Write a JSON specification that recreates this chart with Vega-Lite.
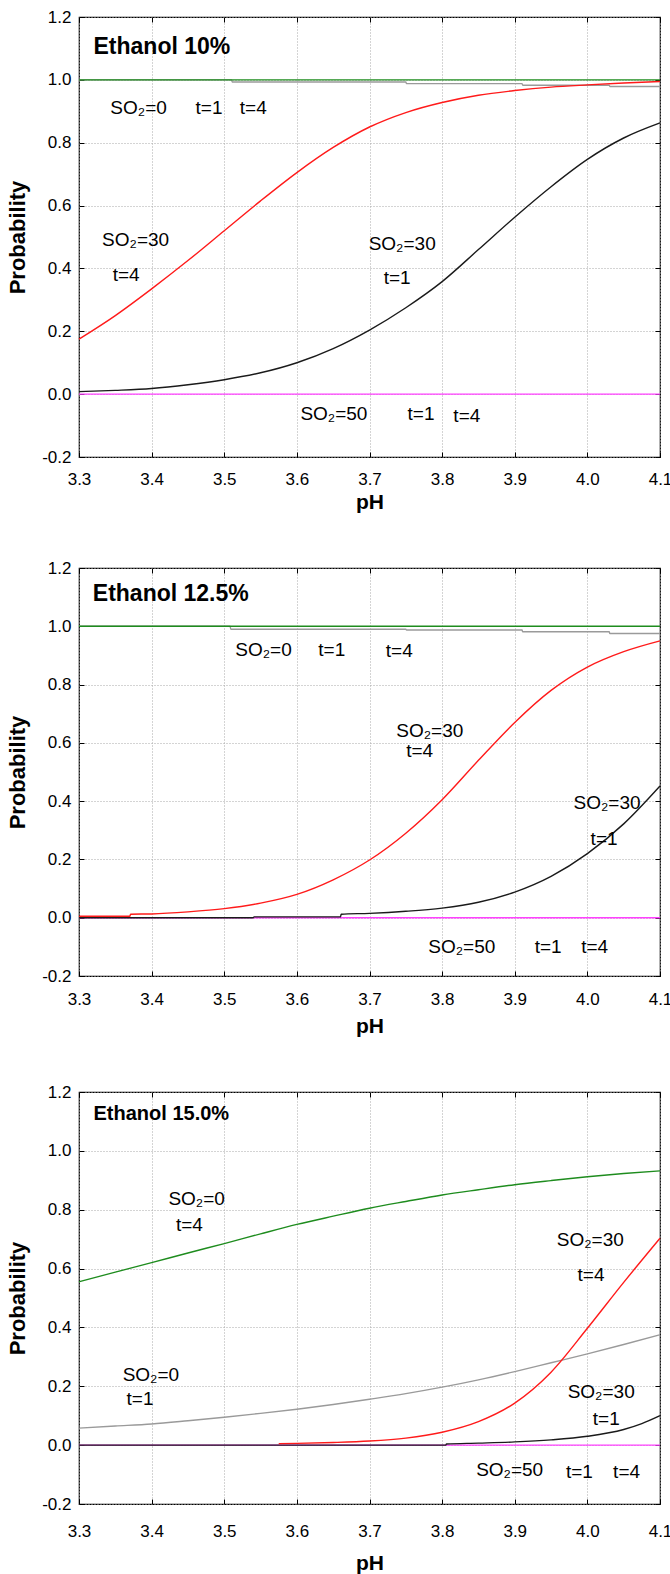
{
  "$schema": "https://vega.github.io/schema/vega-lite/v6.json",
  "padding": {"left": 6, "top": 7, "right": 0, "bottom": 0},
  "spacing": 45,
  "config": {
    "font": "Liberation Sans",
    "view": {"stroke": "#000000", "strokeWidth": 1.2},
    "axis": {
      "grid": true, "gridDash": [1, 2], "gridColor": "#a8a8a8", "gridWidth": 1,
      "domain": false, "tickColor": "#000000", "tickSize": -5, "tickWidth": 1, "labelFlush": false,
      "labelFont": "Liberation Sans", "labelFontSize": 17, "labelColor": "#000000",
      "titleFont": "Liberation Sans", "titleFontSize": 21, "titleFontWeight": "bold", "titleColor": "#000000"
    },
    "line": {"strokeWidth": 1.4, "interpolate": "monotone"},
    "text": {"font": "Liberation Sans", "fontSize": 19, "color": "#000000"}
  },
  "datasets": {
    "lines": [
      {"panel": 1, "series": "s50", "pH": 3.3, "p": 0},
      {"panel": 1, "series": "s50", "pH": 4.1, "p": 0},
      {"panel": 1, "series": "s30t1", "pH": 3.3, "p": 0.008},
      {"panel": 1, "series": "s30t1", "pH": 3.35, "p": 0.012},
      {"panel": 1, "series": "s30t1", "pH": 3.4, "p": 0.018},
      {"panel": 1, "series": "s30t1", "pH": 3.45, "p": 0.03},
      {"panel": 1, "series": "s30t1", "pH": 3.5, "p": 0.046},
      {"panel": 1, "series": "s30t1", "pH": 3.55, "p": 0.068},
      {"panel": 1, "series": "s30t1", "pH": 3.6, "p": 0.1},
      {"panel": 1, "series": "s30t1", "pH": 3.65, "p": 0.145},
      {"panel": 1, "series": "s30t1", "pH": 3.7, "p": 0.204},
      {"panel": 1, "series": "s30t1", "pH": 3.75, "p": 0.275},
      {"panel": 1, "series": "s30t1", "pH": 3.8, "p": 0.358},
      {"panel": 1, "series": "s30t1", "pH": 3.85, "p": 0.46},
      {"panel": 1, "series": "s30t1", "pH": 3.9, "p": 0.563},
      {"panel": 1, "series": "s30t1", "pH": 3.95, "p": 0.66},
      {"panel": 1, "series": "s30t1", "pH": 4.0, "p": 0.747},
      {"panel": 1, "series": "s30t1", "pH": 4.05, "p": 0.815},
      {"panel": 1, "series": "s30t1", "pH": 4.1, "p": 0.863},
      {"panel": 1, "series": "s0t1", "pH": 3.3, "p": 1.0},
      {"panel": 1, "series": "s0t1", "pH": 3.51, "p": 1.0},
      {"panel": 1, "series": "s0t1", "pH": 3.511, "p": 0.993},
      {"panel": 1, "series": "s0t1", "pH": 3.75, "p": 0.993},
      {"panel": 1, "series": "s0t1", "pH": 3.751, "p": 0.988},
      {"panel": 1, "series": "s0t1", "pH": 3.91, "p": 0.988},
      {"panel": 1, "series": "s0t1", "pH": 3.911, "p": 0.983},
      {"panel": 1, "series": "s0t1", "pH": 4.03, "p": 0.983},
      {"panel": 1, "series": "s0t1", "pH": 4.031, "p": 0.979},
      {"panel": 1, "series": "s0t1", "pH": 4.1, "p": 0.979},
      {"panel": 1, "series": "s0t4", "pH": 3.3, "p": 1.0},
      {"panel": 1, "series": "s0t4", "pH": 4.1, "p": 1.0},
      {"panel": 1, "series": "s30t4", "pH": 3.3, "p": 0.175},
      {"panel": 1, "series": "s30t4", "pH": 3.35, "p": 0.25},
      {"panel": 1, "series": "s30t4", "pH": 3.4, "p": 0.335},
      {"panel": 1, "series": "s30t4", "pH": 3.45, "p": 0.425},
      {"panel": 1, "series": "s30t4", "pH": 3.5, "p": 0.52},
      {"panel": 1, "series": "s30t4", "pH": 3.55, "p": 0.615},
      {"panel": 1, "series": "s30t4", "pH": 3.6, "p": 0.705},
      {"panel": 1, "series": "s30t4", "pH": 3.65, "p": 0.785},
      {"panel": 1, "series": "s30t4", "pH": 3.7, "p": 0.85},
      {"panel": 1, "series": "s30t4", "pH": 3.75, "p": 0.896},
      {"panel": 1, "series": "s30t4", "pH": 3.8, "p": 0.928},
      {"panel": 1, "series": "s30t4", "pH": 3.85, "p": 0.951},
      {"panel": 1, "series": "s30t4", "pH": 3.9, "p": 0.966},
      {"panel": 1, "series": "s30t4", "pH": 3.95, "p": 0.977},
      {"panel": 1, "series": "s30t4", "pH": 4.0, "p": 0.984},
      {"panel": 1, "series": "s30t4", "pH": 4.05, "p": 0.99},
      {"panel": 1, "series": "s30t4", "pH": 4.1, "p": 0.995},

      {"panel": 2, "series": "s50", "pH": 3.3, "p": 0},
      {"panel": 2, "series": "s50", "pH": 4.1, "p": 0},
      {"panel": 2, "series": "s30t1", "pH": 3.3, "p": 0},
      {"panel": 2, "series": "s30t1", "pH": 3.54, "p": 0},
      {"panel": 2, "series": "s30t1", "pH": 3.541, "p": 0.003},
      {"panel": 2, "series": "s30t1", "pH": 3.66, "p": 0.003},
      {"panel": 2, "series": "s30t1", "pH": 3.661, "p": 0.012},
      {"panel": 2, "series": "s30t1", "pH": 3.7, "p": 0.015},
      {"panel": 2, "series": "s30t1", "pH": 3.75, "p": 0.022},
      {"panel": 2, "series": "s30t1", "pH": 3.8, "p": 0.033},
      {"panel": 2, "series": "s30t1", "pH": 3.85, "p": 0.053},
      {"panel": 2, "series": "s30t1", "pH": 3.9, "p": 0.088},
      {"panel": 2, "series": "s30t1", "pH": 3.95, "p": 0.142},
      {"panel": 2, "series": "s30t1", "pH": 4.0, "p": 0.22},
      {"panel": 2, "series": "s30t1", "pH": 4.05, "p": 0.322},
      {"panel": 2, "series": "s30t1", "pH": 4.1, "p": 0.452},
      {"panel": 2, "series": "s0t1", "pH": 3.3, "p": 1.0},
      {"panel": 2, "series": "s0t1", "pH": 3.508, "p": 1.0},
      {"panel": 2, "series": "s0t1", "pH": 3.509, "p": 0.99},
      {"panel": 2, "series": "s0t1", "pH": 3.75, "p": 0.99},
      {"panel": 2, "series": "s0t1", "pH": 3.751, "p": 0.987},
      {"panel": 2, "series": "s0t1", "pH": 3.91, "p": 0.987},
      {"panel": 2, "series": "s0t1", "pH": 3.911, "p": 0.981},
      {"panel": 2, "series": "s0t1", "pH": 4.03, "p": 0.981},
      {"panel": 2, "series": "s0t1", "pH": 4.031, "p": 0.975},
      {"panel": 2, "series": "s0t1", "pH": 4.1, "p": 0.975},
      {"panel": 2, "series": "s0t4", "pH": 3.3, "p": 1.0},
      {"panel": 2, "series": "s0t4", "pH": 4.1, "p": 1.0},
      {"panel": 2, "series": "s30t4", "pH": 3.3, "p": 0.005},
      {"panel": 2, "series": "s30t4", "pH": 3.37, "p": 0.005},
      {"panel": 2, "series": "s30t4", "pH": 3.371, "p": 0.012},
      {"panel": 2, "series": "s30t4", "pH": 3.4, "p": 0.013},
      {"panel": 2, "series": "s30t4", "pH": 3.45, "p": 0.02},
      {"panel": 2, "series": "s30t4", "pH": 3.5, "p": 0.031},
      {"panel": 2, "series": "s30t4", "pH": 3.55, "p": 0.05},
      {"panel": 2, "series": "s30t4", "pH": 3.6, "p": 0.08},
      {"panel": 2, "series": "s30t4", "pH": 3.65, "p": 0.13},
      {"panel": 2, "series": "s30t4", "pH": 3.7, "p": 0.198},
      {"panel": 2, "series": "s30t4", "pH": 3.75, "p": 0.29},
      {"panel": 2, "series": "s30t4", "pH": 3.8, "p": 0.405},
      {"panel": 2, "series": "s30t4", "pH": 3.85, "p": 0.54},
      {"panel": 2, "series": "s30t4", "pH": 3.9, "p": 0.67},
      {"panel": 2, "series": "s30t4", "pH": 3.95, "p": 0.78},
      {"panel": 2, "series": "s30t4", "pH": 4.0, "p": 0.86},
      {"panel": 2, "series": "s30t4", "pH": 4.05, "p": 0.913},
      {"panel": 2, "series": "s30t4", "pH": 4.1, "p": 0.95},

      {"panel": 3, "series": "s50", "pH": 3.3, "p": 0},
      {"panel": 3, "series": "s50", "pH": 4.1, "p": 0},
      {"panel": 3, "series": "s30t1", "pH": 3.3, "p": 0},
      {"panel": 3, "series": "s30t1", "pH": 3.805, "p": 0},
      {"panel": 3, "series": "s30t1", "pH": 3.806, "p": 0.004},
      {"panel": 3, "series": "s30t1", "pH": 3.85, "p": 0.007},
      {"panel": 3, "series": "s30t1", "pH": 3.9, "p": 0.011},
      {"panel": 3, "series": "s30t1", "pH": 3.95, "p": 0.018},
      {"panel": 3, "series": "s30t1", "pH": 4.0, "p": 0.03},
      {"panel": 3, "series": "s30t1", "pH": 4.05, "p": 0.053},
      {"panel": 3, "series": "s30t1", "pH": 4.075, "p": 0.073},
      {"panel": 3, "series": "s30t1", "pH": 4.1, "p": 0.1},
      {"panel": 3, "series": "s0t1", "pH": 3.3, "p": 0.058},
      {"panel": 3, "series": "s0t1", "pH": 3.35, "p": 0.065},
      {"panel": 3, "series": "s0t1", "pH": 3.4, "p": 0.072},
      {"panel": 3, "series": "s0t1", "pH": 3.45, "p": 0.083},
      {"panel": 3, "series": "s0t1", "pH": 3.5, "p": 0.095},
      {"panel": 3, "series": "s0t1", "pH": 3.55, "p": 0.108},
      {"panel": 3, "series": "s0t1", "pH": 3.6, "p": 0.122},
      {"panel": 3, "series": "s0t1", "pH": 3.65, "p": 0.138},
      {"panel": 3, "series": "s0t1", "pH": 3.7, "p": 0.156},
      {"panel": 3, "series": "s0t1", "pH": 3.75, "p": 0.175},
      {"panel": 3, "series": "s0t1", "pH": 3.8, "p": 0.197},
      {"panel": 3, "series": "s0t1", "pH": 3.85, "p": 0.222},
      {"panel": 3, "series": "s0t1", "pH": 3.9, "p": 0.25},
      {"panel": 3, "series": "s0t1", "pH": 3.95, "p": 0.28},
      {"panel": 3, "series": "s0t1", "pH": 4.0, "p": 0.31},
      {"panel": 3, "series": "s0t1", "pH": 4.05, "p": 0.342},
      {"panel": 3, "series": "s0t1", "pH": 4.1, "p": 0.375},
      {"panel": 3, "series": "s0t4", "pH": 3.3, "p": 0.555},
      {"panel": 3, "series": "s0t4", "pH": 3.35, "p": 0.588},
      {"panel": 3, "series": "s0t4", "pH": 3.4, "p": 0.62},
      {"panel": 3, "series": "s0t4", "pH": 3.45, "p": 0.653},
      {"panel": 3, "series": "s0t4", "pH": 3.5, "p": 0.685},
      {"panel": 3, "series": "s0t4", "pH": 3.55, "p": 0.718},
      {"panel": 3, "series": "s0t4", "pH": 3.6, "p": 0.75},
      {"panel": 3, "series": "s0t4", "pH": 3.65, "p": 0.778},
      {"panel": 3, "series": "s0t4", "pH": 3.7, "p": 0.805},
      {"panel": 3, "series": "s0t4", "pH": 3.75, "p": 0.828},
      {"panel": 3, "series": "s0t4", "pH": 3.8, "p": 0.85},
      {"panel": 3, "series": "s0t4", "pH": 3.85, "p": 0.868},
      {"panel": 3, "series": "s0t4", "pH": 3.9, "p": 0.885},
      {"panel": 3, "series": "s0t4", "pH": 3.95, "p": 0.899},
      {"panel": 3, "series": "s0t4", "pH": 4.0, "p": 0.912},
      {"panel": 3, "series": "s0t4", "pH": 4.05, "p": 0.923},
      {"panel": 3, "series": "s0t4", "pH": 4.1, "p": 0.932},
      {"panel": 3, "series": "s30t4", "pH": 3.575, "p": 0.005},
      {"panel": 3, "series": "s30t4", "pH": 3.6, "p": 0.006},
      {"panel": 3, "series": "s30t4", "pH": 3.65, "p": 0.009},
      {"panel": 3, "series": "s30t4", "pH": 3.7, "p": 0.014},
      {"panel": 3, "series": "s30t4", "pH": 3.75, "p": 0.024},
      {"panel": 3, "series": "s30t4", "pH": 3.8, "p": 0.044},
      {"panel": 3, "series": "s30t4", "pH": 3.85, "p": 0.08},
      {"panel": 3, "series": "s30t4", "pH": 3.9, "p": 0.143},
      {"panel": 3, "series": "s30t4", "pH": 3.95, "p": 0.248},
      {"panel": 3, "series": "s30t4", "pH": 4.0, "p": 0.397},
      {"panel": 3, "series": "s30t4", "pH": 4.05, "p": 0.553},
      {"panel": 3, "series": "s30t4", "pH": 4.1, "p": 0.703}
    ],
    "labels": [
      {"panel": 1, "kind": "title", "label": "Ethanol 10%", "pH": 3.32, "p": 1.105},
      {"panel": 1, "kind": "note", "label": "SO₂=0", "pH": 3.382, "p": 0.91},
      {"panel": 1, "kind": "note", "label": "t=1", "pH": 3.479, "p": 0.91},
      {"panel": 1, "kind": "note", "label": "t=4", "pH": 3.54, "p": 0.91},
      {"panel": 1, "kind": "note", "label": "SO₂=30", "pH": 3.378, "p": 0.49},
      {"panel": 1, "kind": "note", "label": "t=4", "pH": 3.365, "p": 0.38},
      {"panel": 1, "kind": "note", "label": "SO₂=30", "pH": 3.745, "p": 0.478},
      {"panel": 1, "kind": "note", "label": "t=1", "pH": 3.738, "p": 0.37},
      {"panel": 1, "kind": "note", "label": "SO₂=50", "pH": 3.651, "p": -0.062},
      {"panel": 1, "kind": "note", "label": "t=1", "pH": 3.771, "p": -0.064},
      {"panel": 1, "kind": "note", "label": "t=4", "pH": 3.834, "p": -0.07},

      {"panel": 2, "kind": "title", "label": "Ethanol 12.5%", "pH": 3.319, "p": 1.11},
      {"panel": 2, "kind": "note", "label": "SO₂=0", "pH": 3.554, "p": 0.92},
      {"panel": 2, "kind": "note", "label": "t=1", "pH": 3.648, "p": 0.92},
      {"panel": 2, "kind": "note", "label": "t=4", "pH": 3.741, "p": 0.916},
      {"panel": 2, "kind": "note", "label": "SO₂=30", "pH": 3.783, "p": 0.64},
      {"panel": 2, "kind": "note", "label": "t=4", "pH": 3.769, "p": 0.573},
      {"panel": 2, "kind": "note", "label": "SO₂=30", "pH": 4.027, "p": 0.395},
      {"panel": 2, "kind": "note", "label": "t=1", "pH": 4.023, "p": 0.27},
      {"panel": 2, "kind": "note", "label": "SO₂=50", "pH": 3.827, "p": -0.1},
      {"panel": 2, "kind": "note", "label": "t=1", "pH": 3.946, "p": -0.1},
      {"panel": 2, "kind": "note", "label": "t=4", "pH": 4.01, "p": -0.1},

      {"panel": 3, "kind": "title", "label": "Ethanol 15.0%", "pH": 3.32, "p": 1.124},
      {"panel": 3, "kind": "note", "label": "SO₂=0", "pH": 3.462, "p": 0.835},
      {"panel": 3, "kind": "note", "label": "t=4", "pH": 3.452, "p": 0.747},
      {"panel": 3, "kind": "note", "label": "SO₂=0", "pH": 3.399, "p": 0.238},
      {"panel": 3, "kind": "note", "label": "t=1", "pH": 3.384, "p": 0.156},
      {"panel": 3, "kind": "note", "label": "SO₂=30", "pH": 4.004, "p": 0.697},
      {"panel": 3, "kind": "note", "label": "t=4", "pH": 4.005, "p": 0.577},
      {"panel": 3, "kind": "note", "label": "SO₂=30", "pH": 4.019, "p": 0.18},
      {"panel": 3, "kind": "note", "label": "t=1", "pH": 4.026, "p": 0.088},
      {"panel": 3, "kind": "note", "label": "SO₂=50", "pH": 3.893, "p": -0.085},
      {"panel": 3, "kind": "note", "label": "t=1", "pH": 3.989, "p": -0.09},
      {"panel": 3, "kind": "note", "label": "t=4", "pH": 4.054, "p": -0.09}
    ]
  },
  "vconcat": [
    {
      "width": 581, "height": 440,
      "layer": [
        {
          "data": {"name": "lines"},
          "transform": [{"filter": "datum.panel == 1"}],
          "mark": {"type": "line"},
          "encoding": {
            "x": {"field": "pH", "type": "quantitative", "scale": {"domain": [3.3, 4.1], "nice": false, "zero": false},
                  "axis": {"orient": "bottom", "values": [3.3, 3.4, 3.5, 3.6, 3.7, 3.8, 3.9, 4.0, 4.1], "format": ".1f", "labelPadding": 19, "titlePadding": 4, "title": "pH"}},
            "y": {"field": "p", "type": "quantitative", "scale": {"domain": [-0.2, 1.2], "nice": false, "zero": false},
                  "axis": {"orient": "left", "values": [-0.2, 0, 0.2, 0.4, 0.6, 0.8, 1.0, 1.2], "labelExpr": "replace(format(datum.value, '.1f'), '−', '-')", "labelPadding": 13, "titlePadding": 12, "titleFontSize": 22, "title": "Probability"}},
            "color": {"field": "series", "type": "nominal", "legend": null,
                      "scale": {"domain": ["s50", "s30t1", "s0t1", "s0t4", "s30t4"], "range": ["#ff40ff", "#1a1a1a", "#9a9a9a", "#1e8c1e", "#ff1a1a"]}}
          }
        },
        {
          "data": {"name": "labels"},
          "transform": [{"filter": "datum.panel == 1 && datum.kind == 'note'"}],
          "mark": {"type": "text", "fontSize": 19},
          "encoding": {
            "x": {"field": "pH", "type": "quantitative", "axis": null},
            "y": {"field": "p", "type": "quantitative", "axis": null},
            "text": {"field": "label"}
          }
        },
        {
          "data": {"name": "labels"},
          "transform": [{"filter": "datum.panel == 1 && datum.kind == 'title'"}],
          "mark": {"type": "text", "fontSize": 23, "fontWeight": "bold", "align": "left"},
          "encoding": {
            "x": {"field": "pH", "type": "quantitative", "axis": null},
            "y": {"field": "p", "type": "quantitative", "axis": null},
            "text": {"field": "label"}
          }
        },
        {
          "data": {"name": "lines"},
          "transform": [{"filter": "datum.panel == 1"}],
          "mark": {"type": "point", "opacity": 0},
          "encoding": {
            "x": {"field": "pH", "type": "quantitative", "axis": {"orient": "top", "values": [3.3, 3.4, 3.5, 3.6, 3.7, 3.8, 3.9, 4.0, 4.1], "labels": false, "grid": false, "title": null}},
            "y": {"field": "p", "type": "quantitative", "axis": {"orient": "right", "values": [-0.2, 0, 0.2, 0.4, 0.6, 0.8, 1.0, 1.2], "labels": false, "grid": false, "title": null}}
          }
        }
      ],
      "resolve": {"axis": {"x": "independent", "y": "independent"}}
    },
    {
      "width": 581, "height": 408,
      "layer": [
        {
          "data": {"name": "lines"},
          "transform": [{"filter": "datum.panel == 2"}],
          "mark": {"type": "line"},
          "encoding": {
            "x": {"field": "pH", "type": "quantitative", "scale": {"domain": [3.3, 4.1], "nice": false, "zero": false},
                  "axis": {"orient": "bottom", "values": [3.3, 3.4, 3.5, 3.6, 3.7, 3.8, 3.9, 4.0, 4.1], "format": ".1f", "labelPadding": 20, "titlePadding": 8, "title": "pH"}},
            "y": {"field": "p", "type": "quantitative", "scale": {"domain": [-0.2, 1.2], "nice": false, "zero": false},
                  "axis": {"orient": "left", "values": [-0.2, 0, 0.2, 0.4, 0.6, 0.8, 1.0, 1.2], "labelExpr": "replace(format(datum.value, '.1f'), '−', '-')", "labelPadding": 13, "titlePadding": 12, "titleFontSize": 22, "title": "Probability"}},
            "color": {"field": "series", "type": "nominal", "legend": null,
                      "scale": {"domain": ["s50", "s30t1", "s0t1", "s0t4", "s30t4"], "range": ["#ff40ff", "#1a1a1a", "#9a9a9a", "#1e8c1e", "#ff1a1a"]}}
          }
        },
        {
          "data": {"name": "labels"},
          "transform": [{"filter": "datum.panel == 2 && datum.kind == 'note'"}],
          "mark": {"type": "text", "fontSize": 19},
          "encoding": {
            "x": {"field": "pH", "type": "quantitative", "axis": null},
            "y": {"field": "p", "type": "quantitative", "axis": null},
            "text": {"field": "label"}
          }
        },
        {
          "data": {"name": "labels"},
          "transform": [{"filter": "datum.panel == 2 && datum.kind == 'title'"}],
          "mark": {"type": "text", "fontSize": 23, "fontWeight": "bold", "align": "left"},
          "encoding": {
            "x": {"field": "pH", "type": "quantitative", "axis": null},
            "y": {"field": "p", "type": "quantitative", "axis": null},
            "text": {"field": "label"}
          }
        },
        {
          "data": {"name": "lines"},
          "transform": [{"filter": "datum.panel == 2"}],
          "mark": {"type": "point", "opacity": 0},
          "encoding": {
            "x": {"field": "pH", "type": "quantitative", "axis": {"orient": "top", "values": [3.3, 3.4, 3.5, 3.6, 3.7, 3.8, 3.9, 4.0, 4.1], "labels": false, "grid": false, "title": null}},
            "y": {"field": "p", "type": "quantitative", "axis": {"orient": "right", "values": [-0.2, 0, 0.2, 0.4, 0.6, 0.8, 1.0, 1.2], "labels": false, "grid": false, "title": null}}
          }
        }
      ],
      "resolve": {"axis": {"x": "independent", "y": "independent"}}
    },
    {
      "width": 581, "height": 412,
      "layer": [
        {
          "data": {"name": "lines"},
          "transform": [{"filter": "datum.panel == 3"}],
          "mark": {"type": "line"},
          "encoding": {
            "x": {"field": "pH", "type": "quantitative", "scale": {"domain": [3.3, 4.1], "nice": false, "zero": false},
                  "axis": {"orient": "bottom", "values": [3.3, 3.4, 3.5, 3.6, 3.7, 3.8, 3.9, 4.0, 4.1], "format": ".1f", "labelPadding": 24, "titlePadding": 13, "title": "pH"}},
            "y": {"field": "p", "type": "quantitative", "scale": {"domain": [-0.2, 1.2], "nice": false, "zero": false},
                  "axis": {"orient": "left", "values": [-0.2, 0, 0.2, 0.4, 0.6, 0.8, 1.0, 1.2], "labelExpr": "replace(format(datum.value, '.1f'), '−', '-')", "labelPadding": 13, "titlePadding": 12, "titleFontSize": 22, "title": "Probability"}},
            "color": {"field": "series", "type": "nominal", "legend": null,
                      "scale": {"domain": ["s50", "s30t1", "s0t1", "s0t4", "s30t4"], "range": ["#ff40ff", "#1a1a1a", "#9a9a9a", "#1e8c1e", "#ff1a1a"]}}
          }
        },
        {
          "data": {"name": "labels"},
          "transform": [{"filter": "datum.panel == 3 && datum.kind == 'note'"}],
          "mark": {"type": "text", "fontSize": 19},
          "encoding": {
            "x": {"field": "pH", "type": "quantitative", "axis": null},
            "y": {"field": "p", "type": "quantitative", "axis": null},
            "text": {"field": "label"}
          }
        },
        {
          "data": {"name": "labels"},
          "transform": [{"filter": "datum.panel == 3 && datum.kind == 'title'"}],
          "mark": {"type": "text", "fontSize": 20, "fontWeight": "bold", "align": "left"},
          "encoding": {
            "x": {"field": "pH", "type": "quantitative", "axis": null},
            "y": {"field": "p", "type": "quantitative", "axis": null},
            "text": {"field": "label"}
          }
        },
        {
          "data": {"name": "lines"},
          "transform": [{"filter": "datum.panel == 3"}],
          "mark": {"type": "point", "opacity": 0},
          "encoding": {
            "x": {"field": "pH", "type": "quantitative", "axis": {"orient": "top", "values": [3.3, 3.4, 3.5, 3.6, 3.7, 3.8, 3.9, 4.0, 4.1], "labels": false, "grid": false, "title": null}},
            "y": {"field": "p", "type": "quantitative", "axis": {"orient": "right", "values": [-0.2, 0, 0.2, 0.4, 0.6, 0.8, 1.0, 1.2], "labels": false, "grid": false, "title": null}}
          }
        }
      ],
      "resolve": {"axis": {"x": "independent", "y": "independent"}}
    }
  ]
}
